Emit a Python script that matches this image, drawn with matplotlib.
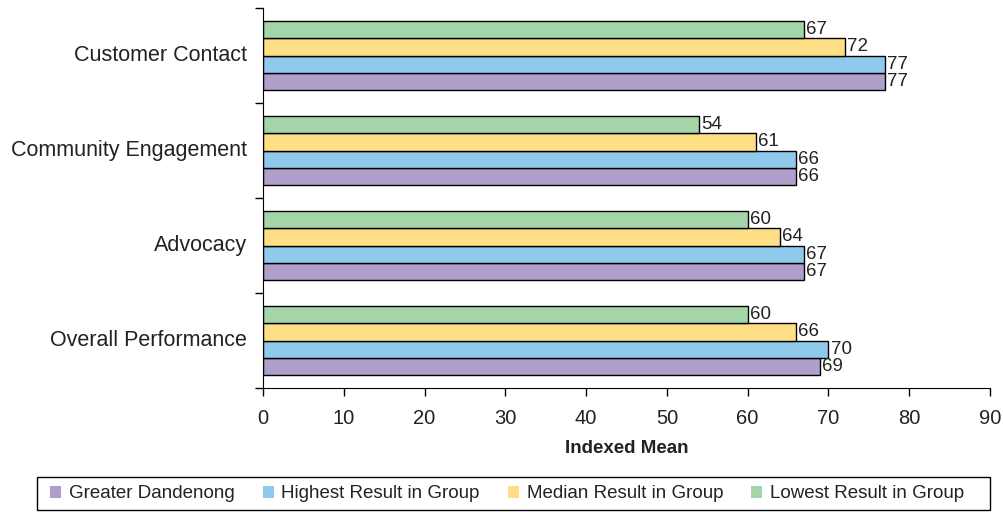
import matplotlib.pyplot as plt
import numpy as np
from matplotlib.patches import Patch, Rectangle

plt.rcParams['font.family'] = ['Liberation Sans', 'DejaVu Sans']

# categories listed bottom to top
categories = ["Overall Performance", "Advocacy", "Community Engagement", "Customer Contact"]
series_names = ["Greater Dandenong", "Highest Result in Group", "Median Result in Group", "Lowest Result in Group"]
greater_dandenong = [69, 67, 66, 77]
highest = [70, 67, 66, 77]
median = [66, 64, 61, 72]
lowest = [60, 60, 54, 67]
colors = ["#B09FCB", "#8FC9EC", "#FFDF85", "#A3D5A8"]

fig = plt.figure(figsize=(10.04, 5.12), dpi=100)
ax = fig.add_axes([263/1004, 1 - 388/512, (990-263)/1004, 380/512])

y = np.arange(len(categories))
h = 0.179
all_series = [greater_dandenong, highest, median, lowest]
for i, (vals, col) in enumerate(zip(all_series, colors)):
    bars = ax.barh(y + (i - 1.5) * h, vals, height=h, color=col,
                   edgecolor="black", linewidth=1)
    ax.bar_label(bars, padding=1.5, fontsize=13.5, color="#222222")

ax.set_xlim(0, 90)
ax.set_ylim(-0.5, 3.5)
ax.set_xticks(np.arange(0, 91, 10))
ax.tick_params(axis="x", labelsize=14.5, length=6, pad=9, width=1, labelcolor="#222222")

ax.set_yticks(np.arange(-0.5, 4, 1))
ax.set_yticklabels([])
ax.tick_params(axis="y", which="major", length=6, width=1)
ax.set_yticks(y + 0.03, minor=True)
ax.set_yticklabels(categories, minor=True, fontsize=15.5, color="#222222")
ax.tick_params(axis="y", which="minor", length=0, pad=11.5)

ax.spines["top"].set_visible(False)
ax.spines["right"].set_visible(False)
ax.set_xlabel("Indexed Mean", fontweight="bold", fontsize=13.5, labelpad=9, color="#222222")

handles = [Patch(facecolor=c, edgecolor="none") for c in colors]
fig.legend(handles, series_names, loc="center", bbox_to_anchor=(0.505, 1 - 494/512),
           ncol=4, frameon=False, fontsize=13.5, handlelength=0.6, handleheight=0.6,
           handletextpad=0.4, columnspacing=1.5, labelcolor="#222222")
fig.add_artist(Rectangle((37/1004, 2/512), (990-37)/1004, 33/512, transform=fig.transFigure,
                         fill=False, edgecolor="black", linewidth=1))

fig.savefig("out.png", dpi=100)
